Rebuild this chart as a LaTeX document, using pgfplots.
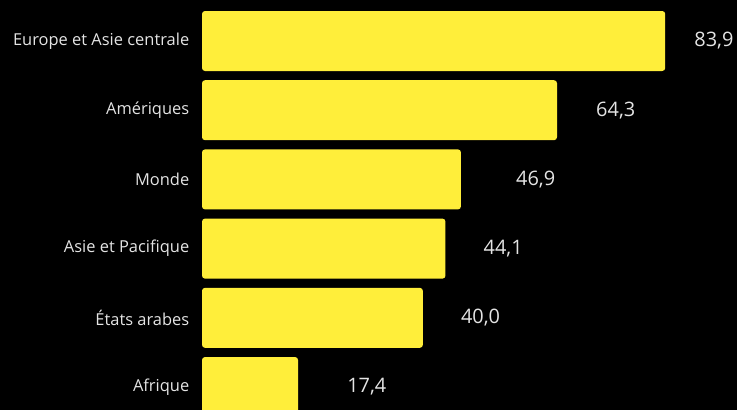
\documentclass[border=0pt]{standalone}
\usepackage{pgfplots}
\usepackage{pgfplotstable}
\pgfplotsset{compat=1.18}
\usepackage{fontspec}
\setmainfont{Open Sans}
\definecolor{baryellow}{RGB}{255,238,58}
\definecolor{txtgray}{RGB}{228,228,228}
\pgfplotstableread{
value idx gap
83.9 0 29
64.3 1 39
46.9 2 55
44.1 3 38
40.0 4 38
17.4 5 49
}\datatable
\begin{document}
\begin{tikzpicture}
\useasboundingbox (0,0) rectangle (737bp,410bp);
\fill[black] (0,0) rectangle (737bp,410bp);
\begin{axis}[
  at={(202bp,0bp)}, anchor=south west,
  scale only axis, width=535bp, height=410bp,
  xmin=0, xmax=96.9,
  ymin=-0.5925, ymax=5.332,
  y dir=reverse,
  xbar, bar width=60bp,
  axis line style={draw=none},
  tick style={draw=none},
  xtick=\empty,
  ytick={0,1,2,3,4,5},
  yticklabels={Europe et Asie centrale, Amériques, Monde, Asie et Pacifique, États arabes, Afrique},
  yticklabel style={font=\fontsize{16.5}{18}\selectfont, text=txtgray, xshift=-5bp},
  visualization depends on={\thisrow{gap} \as \gapval},
  nodes near coords,
  nodes near coords style={anchor=west, inner sep=0pt, xshift=\gapval bp, font=\fontsize{20}{22}\selectfont, text=txtgray,
    /pgf/number format/.cd, fixed, fixed zerofill, precision=1, use comma, assume math mode=true},
  /pgf/number format/assume math mode=true,
]
\addplot[fill=baryellow, draw=none, rounded corners=3bp] table[x=value, y=idx] {\datatable};
\end{axis}
\end{tikzpicture}
\end{document}
